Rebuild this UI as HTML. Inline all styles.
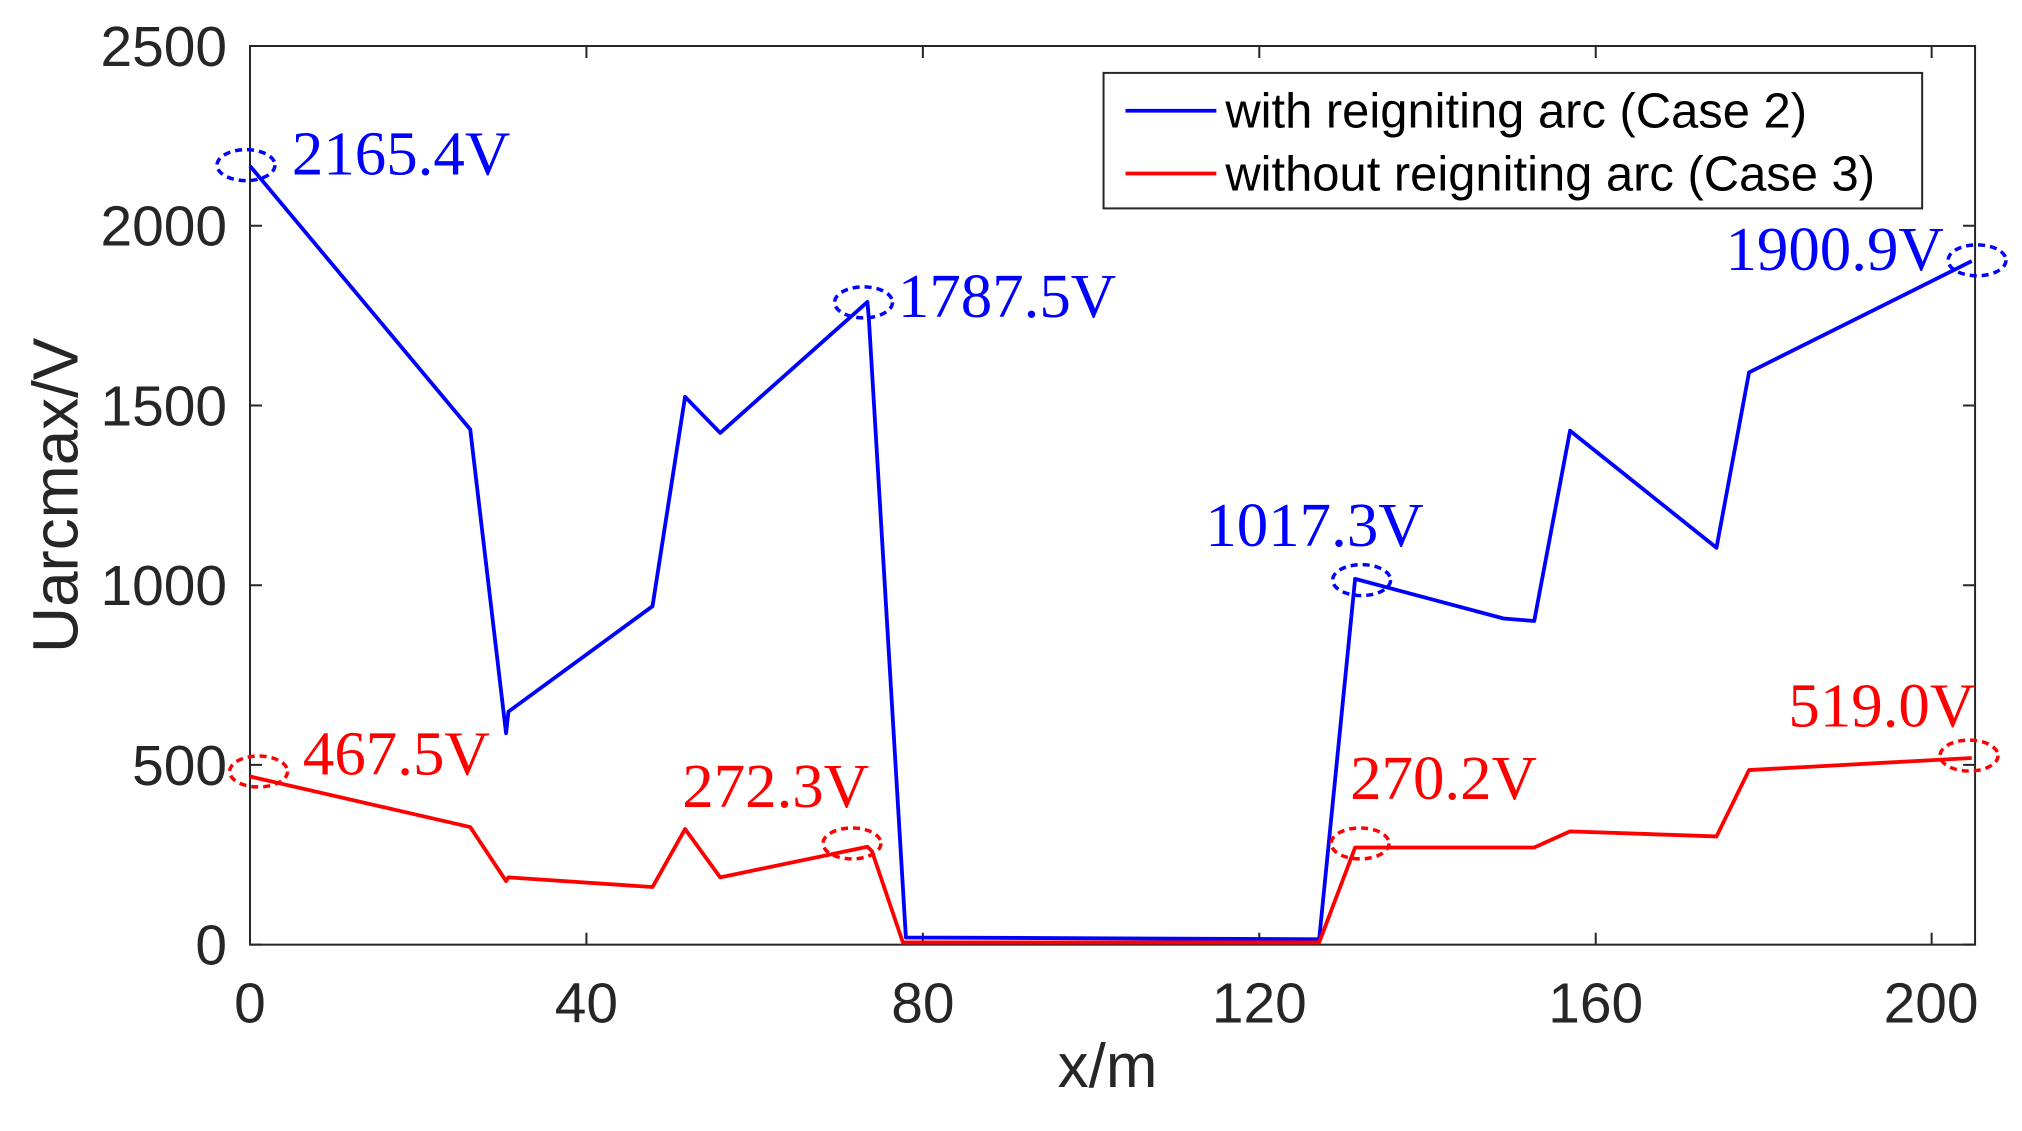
<!DOCTYPE html>
<html><head><style>body{margin:0;background:#fff}svg{display:block}</style></head><body>
<svg width="2022" height="1131" xmlns="http://www.w3.org/2000/svg">
<rect width="2022" height="1131" fill="#fff"/>
<g transform="translate(250,46) scale(0.9983,0.9963) translate(-253,-47)">
<g stroke="#262626" stroke-width="2" fill="none">
<rect x="253" y="47" width="1728" height="902"/>
<path d="M253,47v12M590,47v12M927,47v12M1264,47v12M1601,47v12M1937.5,47v12
M253,949v-12M590,949v-12M927,949v-12M1264,949v-12M1601,949v-12M1937.5,949v-12
M253,47h12M253,227.4h12M253,407.8h12M253,588.2h12M253,768.6h12M253,949h12
M1981,47h-12M1981,227.4h-12M1981,407.8h-12M1981,588.2h-12M1981,768.6h-12M1981,949h-12"/>
</g>
<g font-family="Liberation Sans, sans-serif" font-size="57" fill="#262626">
<g text-anchor="end">
<text x="230" y="67">2500</text><text x="230" y="247">2000</text><text x="230" y="428">1500</text>
<text x="230" y="608">1000</text><text x="230" y="789">500</text><text x="230" y="969">0</text>
</g>
<g text-anchor="middle">
<text x="253" y="1027">0</text><text x="590" y="1027">40</text><text x="927" y="1027">80</text>
<text x="1264" y="1027">120</text><text x="1601" y="1027">160</text><text x="1937" y="1027">200</text>
<text x="1112" y="1092" font-size="62">x/m</text>
<text transform="translate(80,498) rotate(-90)" font-size="64">Uarcmax/V</text>
</g>
</g>
<g transform="scale(1,1.1106)">
<polyline fill="none" stroke="#0000ff" stroke-width="3.8" vector-effect="non-scaling-stroke" stroke-linejoin="round" points="253,150.7 473.6,388.8 509.5,663.4 511.9,643.9 656.2,548.6 688.8,359.4 724,392 871.5,273.6 873,290 910,848 1324,849.6 1360,523.9 1508.7,559.7 1539.4,562 1575.3,390 1722,495.8 1754.6,337.3 1977.7,236.7"/>
<polyline fill="none" stroke="#ff0000" stroke-width="3.8" vector-effect="non-scaling-stroke" stroke-linejoin="round" points="253,702.5 473.6,748.2 509.5,797 511.9,793.7 656.2,802.4 688.8,750 724,793.7 871.5,766 876,770 907,852.5 1324,852.5 1360,766.7 1539.4,766.7 1575.3,752.1 1722,756.7 1754.6,696.7 1977.7,685.8"/>
<g fill="none" stroke-width="3.5" stroke-dasharray="7,5">
<g stroke="#0000ff">
<ellipse vector-effect="non-scaling-stroke" cx="249" cy="150" rx="29" ry="14"/><ellipse vector-effect="non-scaling-stroke" cx="867.6" cy="274" rx="29" ry="14"/>
<ellipse vector-effect="non-scaling-stroke" cx="1366.5" cy="525" rx="29" ry="14"/><ellipse vector-effect="non-scaling-stroke" cx="1983" cy="236" rx="29" ry="14"/>
</g>
<g stroke="#ff0000">
<ellipse vector-effect="non-scaling-stroke" cx="261.6" cy="698" rx="29" ry="14"/><ellipse vector-effect="non-scaling-stroke" cx="856" cy="763" rx="29" ry="14"/>
<ellipse vector-effect="non-scaling-stroke" cx="1365" cy="763" rx="29" ry="14"/><ellipse vector-effect="non-scaling-stroke" cx="1975" cy="683.6" rx="29" ry="14"/>
</g>
</g>
</g>
<g font-family="Liberation Serif, serif" font-size="63">
<g fill="#0000ff">
<text x="295" y="176">2165.4V</text><text x="902" y="319">1787.5V</text>
<text x="1210" y="549">1017.3V</text><text x="1731" y="272">1900.9V</text>
</g>
<g fill="#ff0000">
<text x="306" y="778">467.5V</text><text x="686" y="811">272.3V</text>
<text x="1355" y="803">270.2V</text><text x="1794" y="730">519.0V</text>
</g>
</g>
<rect x="1108" y="74" width="820" height="136" fill="#fff" stroke="#262626" stroke-width="2"/>
<path d="M1130,112h91" stroke="#0000ff" stroke-width="3.8"/>
<path d="M1130,175h91" stroke="#ff0000" stroke-width="3.8"/>
<g font-family="Liberation Sans, sans-serif" font-size="49" fill="#000">
<text x="1230" y="129">with reigniting arc (Case 2)</text>
<text x="1230" y="192">without reigniting arc (Case 3)</text>
</g>
</g>
</svg>
</body></html>
